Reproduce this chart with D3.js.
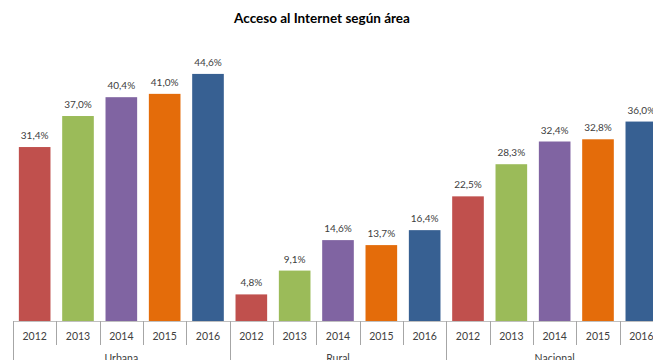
<!DOCTYPE html>
<meta charset="utf-8">
<style>
  body { margin: 0; background: #fff; }
  text { font-family: Lato, "Open Sans", sans-serif; }
</style>
<body>
  <script src="https://d3js.org/d3.v7.min.js"></script>
  <script>
    // data
    var groups = ["Urbana", "Rural", "Nacional"];
    var years = ["2012", "2013", "2014", "2015", "2016"];
    var urbana = [31.4, 37.0, 40.4, 41.0, 44.6];
    var rural = [4.8, 9.1, 14.6, 13.7, 16.4];
    var nacional = [22.5, 28.3, 32.4, 32.8, 36.0];
    var yearColors = ["#c0504d", "#9bbb59", "#8064a2", "#e46c0a", "#376092"];

    var width = 653,
      height = 360,
      baseY = 321;

    var seriesByGroup = [urbana, rural, nacional];
    var data = [];
    groups.forEach(function(g, gi) {
      years.forEach(function(yr, yi) {
        data.push({ group: g, year: yr, yi: yi, value: seriesByGroup[gi][yi] });
      });
    });

    var svg = d3.select("body").append("svg")
      .attr("width", width)
      .attr("height", height);

    var x = d3.scaleBand()
      .domain(data.map(function(d) { return d.group + "|" + d.year; }))
      .range([13, 663])
      .paddingInner(0.27)
      .paddingOuter(0.135);

    var y = d3.scaleLinear().domain([0, 50]).range([baseY, 44]);

    var color = d3.scaleOrdinal().domain(years).range(yearColors);

    var locale = d3.formatLocale({ decimal: ",", thousands: ".", grouping: [3], currency: ["", ""] });
    var fmt = locale.format(".1f");

    // title
    svg.append("text")
      .attr("x", 322)
      .attr("y", 23)
      .attr("text-anchor", "middle")
      .style("font-size", "13.5px")
      .style("font-weight", "bold")
      .style("fill", "#000")
      .text("Acceso al Internet según área");

    // bars
    svg.selectAll(".bar")
      .data(data)
      .enter().append("rect")
      .attr("class", "bar")
      .attr("x", function(d) { return x(d.group + "|" + d.year); })
      .attr("y", function(d) { return y(d.value); })
      .attr("width", x.bandwidth())
      .attr("height", function(d) { return baseY - y(d.value); })
      .style("fill", function(d) { return color(d.year); });

    // value labels
    svg.selectAll(".label")
      .data(data)
      .enter().append("text")
      .attr("class", "label")
      .attr("x", function(d) { return x(d.group + "|" + d.year) + x.bandwidth() / 2; })
      .attr("y", function(d) { return y(d.value) - 8; })
      .attr("text-anchor", "middle")
      .style("font-size", "10px")
      .style("fill", "#404040")
      .text(function(d) { return fmt(d.value) + "%"; });

    // category axis
    var step = x.step();
    var x0 = x.range()[0];
    svg.append("line")
      .attr("x1", x0).attr("x2", width)
      .attr("y1", baseY + 0.5).attr("y2", baseY + 0.5)
      .style("stroke", "#bfbfbf");

    var seps = d3.range(data.length + 1);
    svg.selectAll(".sep")
      .data(seps)
      .enter().append("line")
      .attr("class", "sep")
      .attr("x1", function(i) { return Math.round(x0 + i * step) + 0.5; })
      .attr("x2", function(i) { return Math.round(x0 + i * step) + 0.5; })
      .attr("y1", baseY)
      .attr("y2", function(i) { return i % years.length === 0 ? height : 345; })
      .style("stroke", "#a6a6a6");

    svg.selectAll(".yearlab")
      .data(data)
      .enter().append("text")
      .attr("class", "yearlab")
      .attr("x", function(d) { return x(d.group + "|" + d.year) + x.bandwidth() / 2; })
      .attr("y", 340)
      .attr("text-anchor", "middle")
      .style("font-size", "10.5px")
      .style("fill", "#404040")
      .text(function(d) { return d.year; });

    svg.selectAll(".grouplab")
      .data(groups)
      .enter().append("text")
      .attr("class", "grouplab")
      .attr("x", function(g, i) { return x0 + (i * years.length + years.length / 2) * step; })
      .attr("y", 362)
      .attr("text-anchor", "middle")
      .style("font-size", "10.5px")
      .style("fill", "#404040")
      .text(function(g) { return g; });
  </script>
</body>
